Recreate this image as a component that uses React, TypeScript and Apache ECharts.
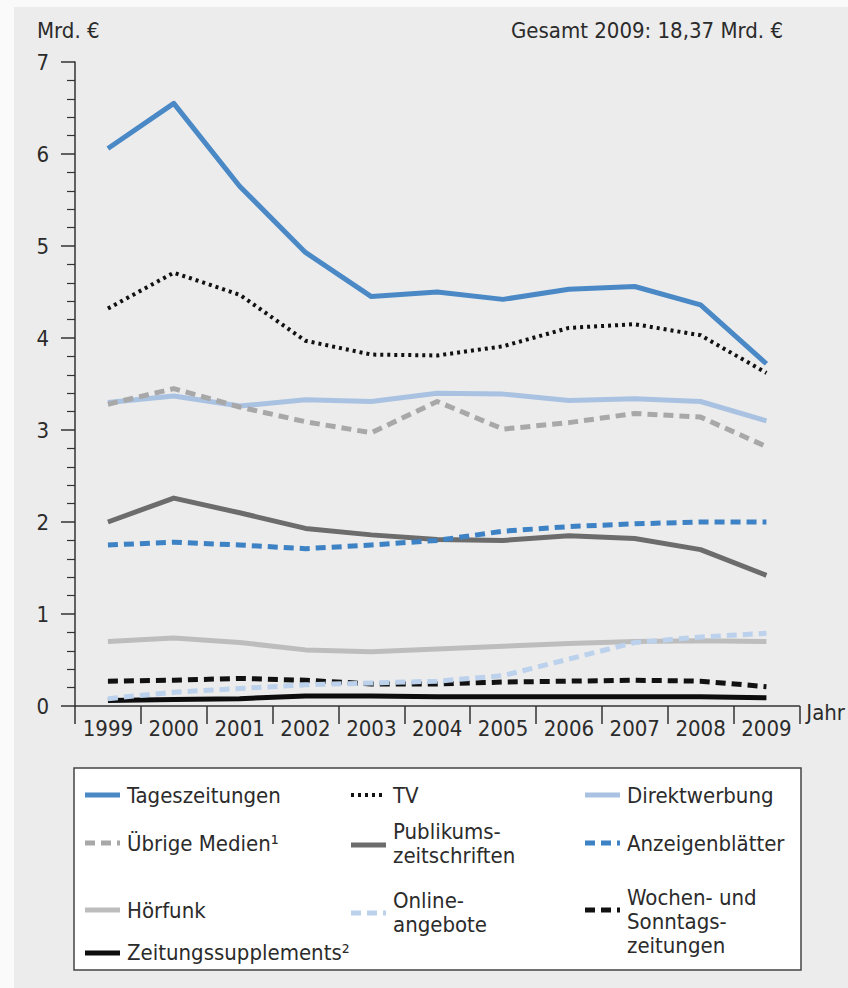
import React, { useEffect, useRef } from "react";
import * as echarts from "echarts";

const years = ["1999", "2000", "2001", "2002", "2003", "2004", "2005", "2006", "2007", "2008", "2009"];
const tageszeitungen = [6.06, 6.55, 5.65, 4.93, 4.45, 4.5, 4.42, 4.53, 4.56, 4.36, 3.72];
const tv = [4.32, 4.71, 4.47, 3.97, 3.82, 3.81, 3.91, 4.11, 4.15, 4.03, 3.62];
const direktwerbung = [3.3, 3.37, 3.26, 3.33, 3.31, 3.4, 3.39, 3.32, 3.34, 3.31, 3.1];
const uebrigeMedien = [3.28, 3.45, 3.25, 3.09, 2.97, 3.31, 3.01, 3.08, 3.18, 3.14, 2.82];
const publikumszeitschriften = [2.0, 2.26, 2.1, 1.93, 1.86, 1.81, 1.8, 1.85, 1.82, 1.7, 1.42];
const anzeigenblaetter = [1.75, 1.78, 1.75, 1.71, 1.75, 1.8, 1.9, 1.95, 1.98, 2.0, 2.0];
const hoerfunk = [0.7, 0.74, 0.69, 0.61, 0.59, 0.62, 0.65, 0.68, 0.7, 0.71, 0.7];
const onlineangebote = [0.08, 0.15, 0.19, 0.23, 0.25, 0.27, 0.33, 0.51, 0.69, 0.75, 0.79];
const wochenSonntag = [0.27, 0.28, 0.3, 0.28, 0.24, 0.24, 0.26, 0.27, 0.28, 0.27, 0.21];
const supplements = [0.06, 0.07, 0.08, 0.11, 0.11, 0.1, 0.1, 0.1, 0.1, 0.1, 0.09];

const unitLabel = "Mrd. €";
const totalLabel = "Gesamt 2009: 18,37 Mrd. €";
const xName = "Jahr";

const FONT = "'DejaVu Sans Condensed', 'Liberation Sans Narrow', 'Liberation Sans', Arial, sans-serif";
const FS = 22;
const TXT = "#2b2b2b";

type Def = { name: string; label: string; data: number[]; color: string; width: number; dash: any; col: number; ty: number; sy: number };

const DOT = [3, 4];
const DASH = [10, 6];

// order = drawing order (later on top)
const defs: Def[] = [
  { name: "Hörfunk", label: "Hörfunk", data: hoerfunk, color: "#bdbdbd", width: 5, dash: "solid", col: 0, ty: 910, sy: 910 },
  { name: "Zeitungssupplements²", label: "Zeitungssupplements²", data: supplements, color: "#0d0d0d", width: 5, dash: "solid", col: 0, ty: 952, sy: 953 },
  { name: "Wochen- und Sonntagszeitungen", label: "Wochen- und\nSonntags-\nzeitungen", data: wochenSonntag, color: "#111111", width: 5, dash: DASH, col: 2, ty: 921, sy: 910 },
  { name: "Onlineangebote", label: "Online-\nangebote", data: onlineangebote, color: "#bcd1ec", width: 5, dash: DASH, col: 1, ty: 912, sy: 913 },
  { name: "Publikumszeitschriften", label: "Publikums-\nzeitschriften", data: publikumszeitschriften, color: "#6c6c6c", width: 5, dash: "solid", col: 1, ty: 843, sy: 845 },
  { name: "Anzeigenblätter", label: "Anzeigenblätter", data: anzeigenblaetter, color: "#3d82c4", width: 5, dash: DASH, col: 2, ty: 843, sy: 843 },
  { name: "Direktwerbung", label: "Direktwerbung", data: direktwerbung, color: "#a9c2e2", width: 5, dash: "solid", col: 2, ty: 795, sy: 795 },
  { name: "Übrige Medien¹", label: "Übrige Medien¹", data: uebrigeMedien, color: "#a8a8a8", width: 5, dash: DASH, col: 0, ty: 843, sy: 843 },
  { name: "TV", label: "TV", data: tv, color: "#111111", width: 4, dash: DOT, col: 1, ty: 795, sy: 795 },
  { name: "Tageszeitungen", label: "Tageszeitungen", data: tageszeitungen, color: "#4a89c6", width: 5, dash: "solid", col: 0, ty: 795, sy: 795 },
];

const colX = [85, 351, 585];

export default function App() {
  const ref = useRef<HTMLDivElement>(null);
  useEffect(() => {
    if (!ref.current) return;
    const chart = echarts.init(ref.current, null, { renderer: "svg" });
    const legendGraphics: any[] = [];
    defs.forEach((d) => {
      const x0 = colX[d.col];
      legendGraphics.push({
        type: "line",
        shape: { x1: x0, y1: d.sy, x2: x0 + 35, y2: d.sy },
        style: { stroke: d.color, lineWidth: d.width, lineDash: d.dash === "solid" ? null : d.dash },
      });
      legendGraphics.push({
        type: "text",
        x: x0 + 42,
        y: d.ty,
        style: {
          text: d.label,
          fill: TXT,
          fontSize: FS,
          fontFamily: FONT,
          lineHeight: 24,
          verticalAlign: "middle",
          align: "left",
        },
      });
    });
    const option: any = {
      animation: false,
      backgroundColor: "#ececec",
      grid: { left: 75, top: 62, width: 728, height: 644, containLabel: false },
      xAxis: {
        type: "category",
        data: years,
        boundaryGap: true,
        name: xName,
        nameLocation: "end",
        nameGap: 7,
        nameTextStyle: { fontSize: FS, fontFamily: FONT, color: TXT, verticalAlign: "top", padding: [-5, 0, 0, 0] },
        axisLine: { show: true, lineStyle: { color: "#333", width: 1.5 } },
        axisTick: { show: true, length: 18, lineStyle: { color: "#333", width: 1.5 } },
        axisLabel: { interval: 0, margin: 11, fontSize: FS, fontFamily: FONT, color: TXT },
        splitLine: { show: false },
      },
      yAxis: {
        type: "value",
        min: 0,
        max: 7,
        interval: 1,
        axisLine: { show: true, lineStyle: { color: "#333", width: 1.5 } },
        axisTick: { show: true, inside: false, length: 14, lineStyle: { color: "#333", width: 1.5 } },
        minorTick: { show: true, splitNumber: 5, length: 8, lineStyle: { color: "#333", width: 1.2 } },
        splitLine: { show: false },
        minorSplitLine: { show: false },
        axisLabel: { margin: 26, fontSize: FS, fontFamily: FONT, color: TXT },
      },
      series: defs.map((d) => ({
        name: d.name,
        type: "line",
        data: d.data,
        symbol: "none",
        smooth: false,
        lineStyle: { color: d.color, width: d.width, type: d.dash, cap: "butt", join: "round" },
      })),
      graphic: [
        { type: "rect", shape: { x: 0, y: 0, width: 14, height: 988 }, style: { fill: "#fafafa" }, silent: true },
        { type: "rect", shape: { x: 0, y: 0, width: 848, height: 7 }, style: { fill: "#fafafa" }, silent: true },
        {
          type: "text",
          x: 37,
          y: 30,
          style: { text: unitLabel, fill: TXT, fontSize: FS, fontFamily: FONT, verticalAlign: "middle", align: "left" },
        },
        {
          type: "text",
          x: 783,
          y: 30,
          style: { text: totalLabel, fill: TXT, fontSize: FS, fontFamily: FONT, verticalAlign: "middle", align: "right" },
        },
        {
          type: "rect",
          shape: { x: 74, y: 768, width: 727, height: 202 },
          style: { fill: "#ffffff", stroke: "#444", lineWidth: 1.5 },
        },
        ...legendGraphics,
      ],
    };
    chart.setOption(option);
    return () => chart.dispose();
  }, []);
  return <div ref={ref} style={{ position: "absolute", left: 0, top: 0, width: 848, height: 988 }} />;
}
